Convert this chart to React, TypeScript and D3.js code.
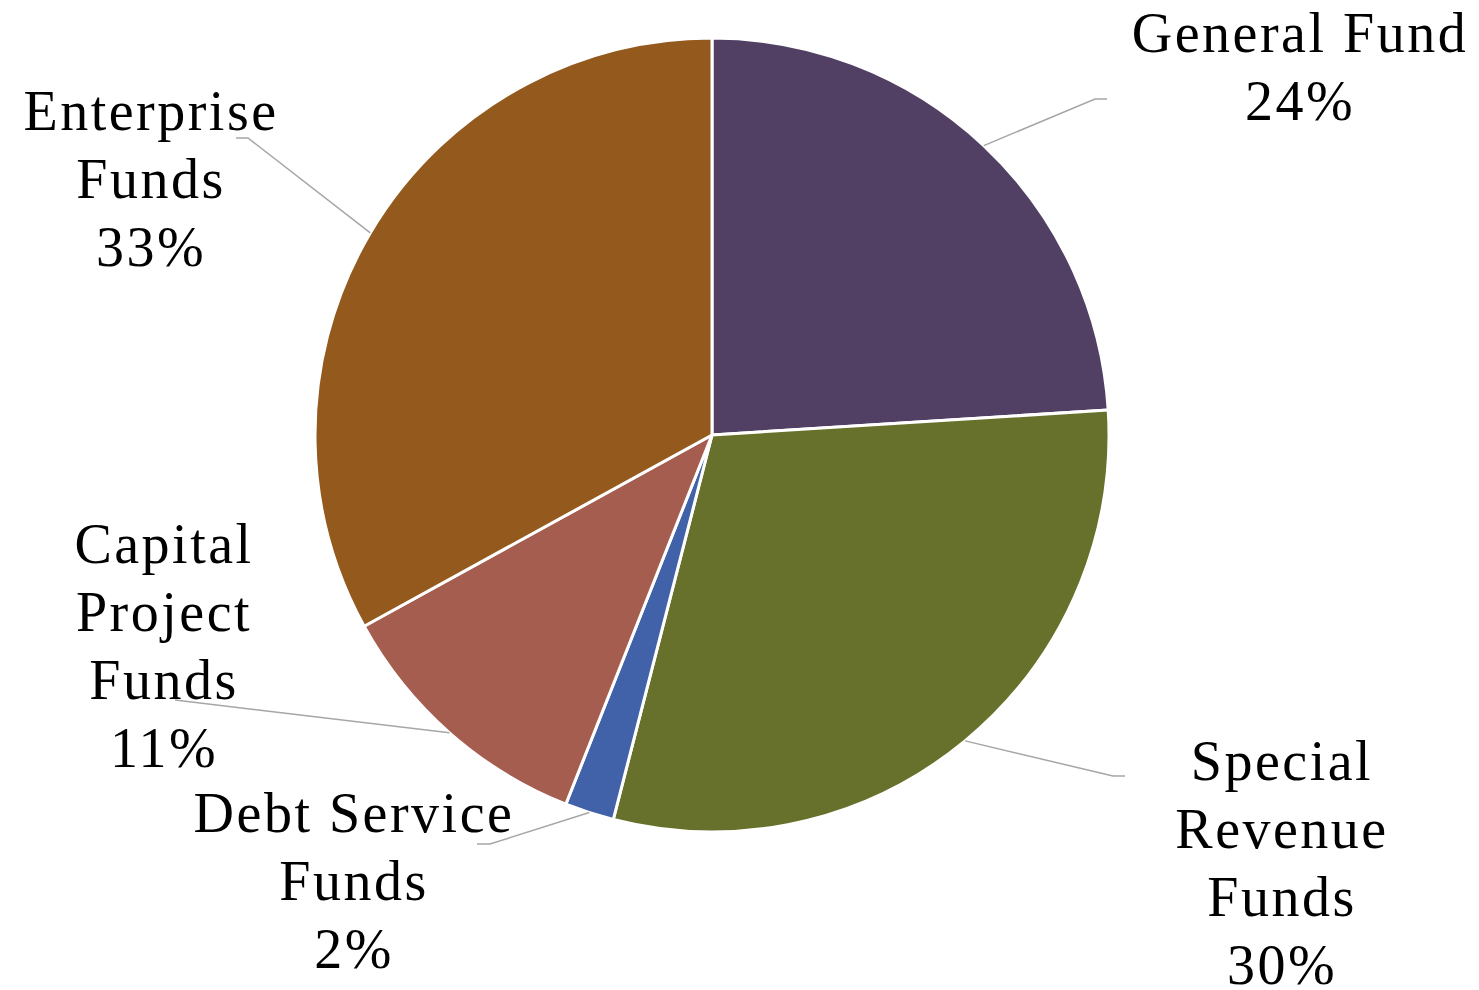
import React, { useEffect, useRef } from 'react';
import * as d3 from 'd3';

const categories = ['General Fund', 'Special Revenue Funds', 'Debt Service Funds', 'Capital Project Funds', 'Enterprise Funds'];
const shares = [24, 30, 2, 11, 33];
const labelLines = [['General Fund', '24%'], ['Special', 'Revenue', 'Funds', '30%'], ['Debt Service', 'Funds', '2%'], ['Capital', 'Project', 'Funds', '11%'], ['Enterprise', 'Funds', '33%']];
const colors = ['#514064', '#67712B', '#4162A8', '#A55D4F', '#94591D'];

// label layout: text centre x, first baseline y, leader elbow and end
const labelLayout = [
  { x: 1299, y: 52, elbow: [1095, 99], end: [1107, 99] },
  { x: 1281, y: 780, elbow: [1113, 776], end: [1125, 776] },
  { x: 353, y: 832, elbow: [490, 844], end: [477, 844] },
  { x: 163, y: 563, elbow: [175, 700], end: [175, 700] },
  { x: 150, y: 130, elbow: [248, 138], end: [236, 138] },
];

const W = 1479;
const H = 990;

const App: React.FC = () => {
  const svgRef = useRef<SVGSVGElement>(null);

  useEffect(() => {
    if (!svgRef.current) return;
    const svg = d3.select(svgRef.current);
    svg.selectAll('*').remove();

    const cx = 712;
    const cy = 435;
    const r = 397;

    const data = categories.map((c, i) => ({ name: c, value: shares[i], i }));
    const pie = d3.pie<any>().sort(null).value(d => d.value).startAngle(0).endAngle(2 * Math.PI);
    const arcs = pie(data);
    const arc = d3.arc<any>().innerRadius(0).outerRadius(r);

    const g = svg.append('g').attr('transform', `translate(${cx},${cy})`);
    g.selectAll('path.slice')
      .data(arcs)
      .enter()
      .append('path')
      .attr('class', 'slice')
      .attr('d', arc)
      .attr('fill', d => colors[d.data.i])
      .attr('stroke', '#fff')
      .attr('stroke-width', 3)
      .attr('stroke-linejoin', 'round');

    // leader lines
    arcs.forEach((a, i) => {
      const mid = (a.startAngle + a.endAngle) / 2;
      const sx = cx + r * Math.sin(mid);
      const sy = cy - r * Math.cos(mid);
      const lay = labelLayout[i];
      svg.append('polyline')
        .attr('points', `${sx},${sy} ${lay.elbow[0]},${lay.elbow[1]} ${lay.end[0]},${lay.end[1]}`)
        .attr('fill', 'none')
        .attr('stroke', '#A6A6A6')
        .attr('stroke-width', 1.5);
    });

    // labels
    labelLines.forEach((lines, i) => {
      const lay = labelLayout[i];
      const t = svg.append('text')
        .attr('text-anchor', 'middle')
        .attr('font-family', '"Liberation Serif", serif')
        .attr('font-size', 56)
        .attr('letter-spacing', 2.5)
        .attr('fill', '#000');
      lines.forEach((ln, j) => {
        t.append('tspan').attr('x', lay.x + 1).attr('y', lay.y + j * 68).text(ln);
      });
    });
  }, []);

  return <svg ref={svgRef} width={W} height={H} style={{ display: 'block', position: 'absolute', left: 0, top: 0 }} />;
};

export default App;
